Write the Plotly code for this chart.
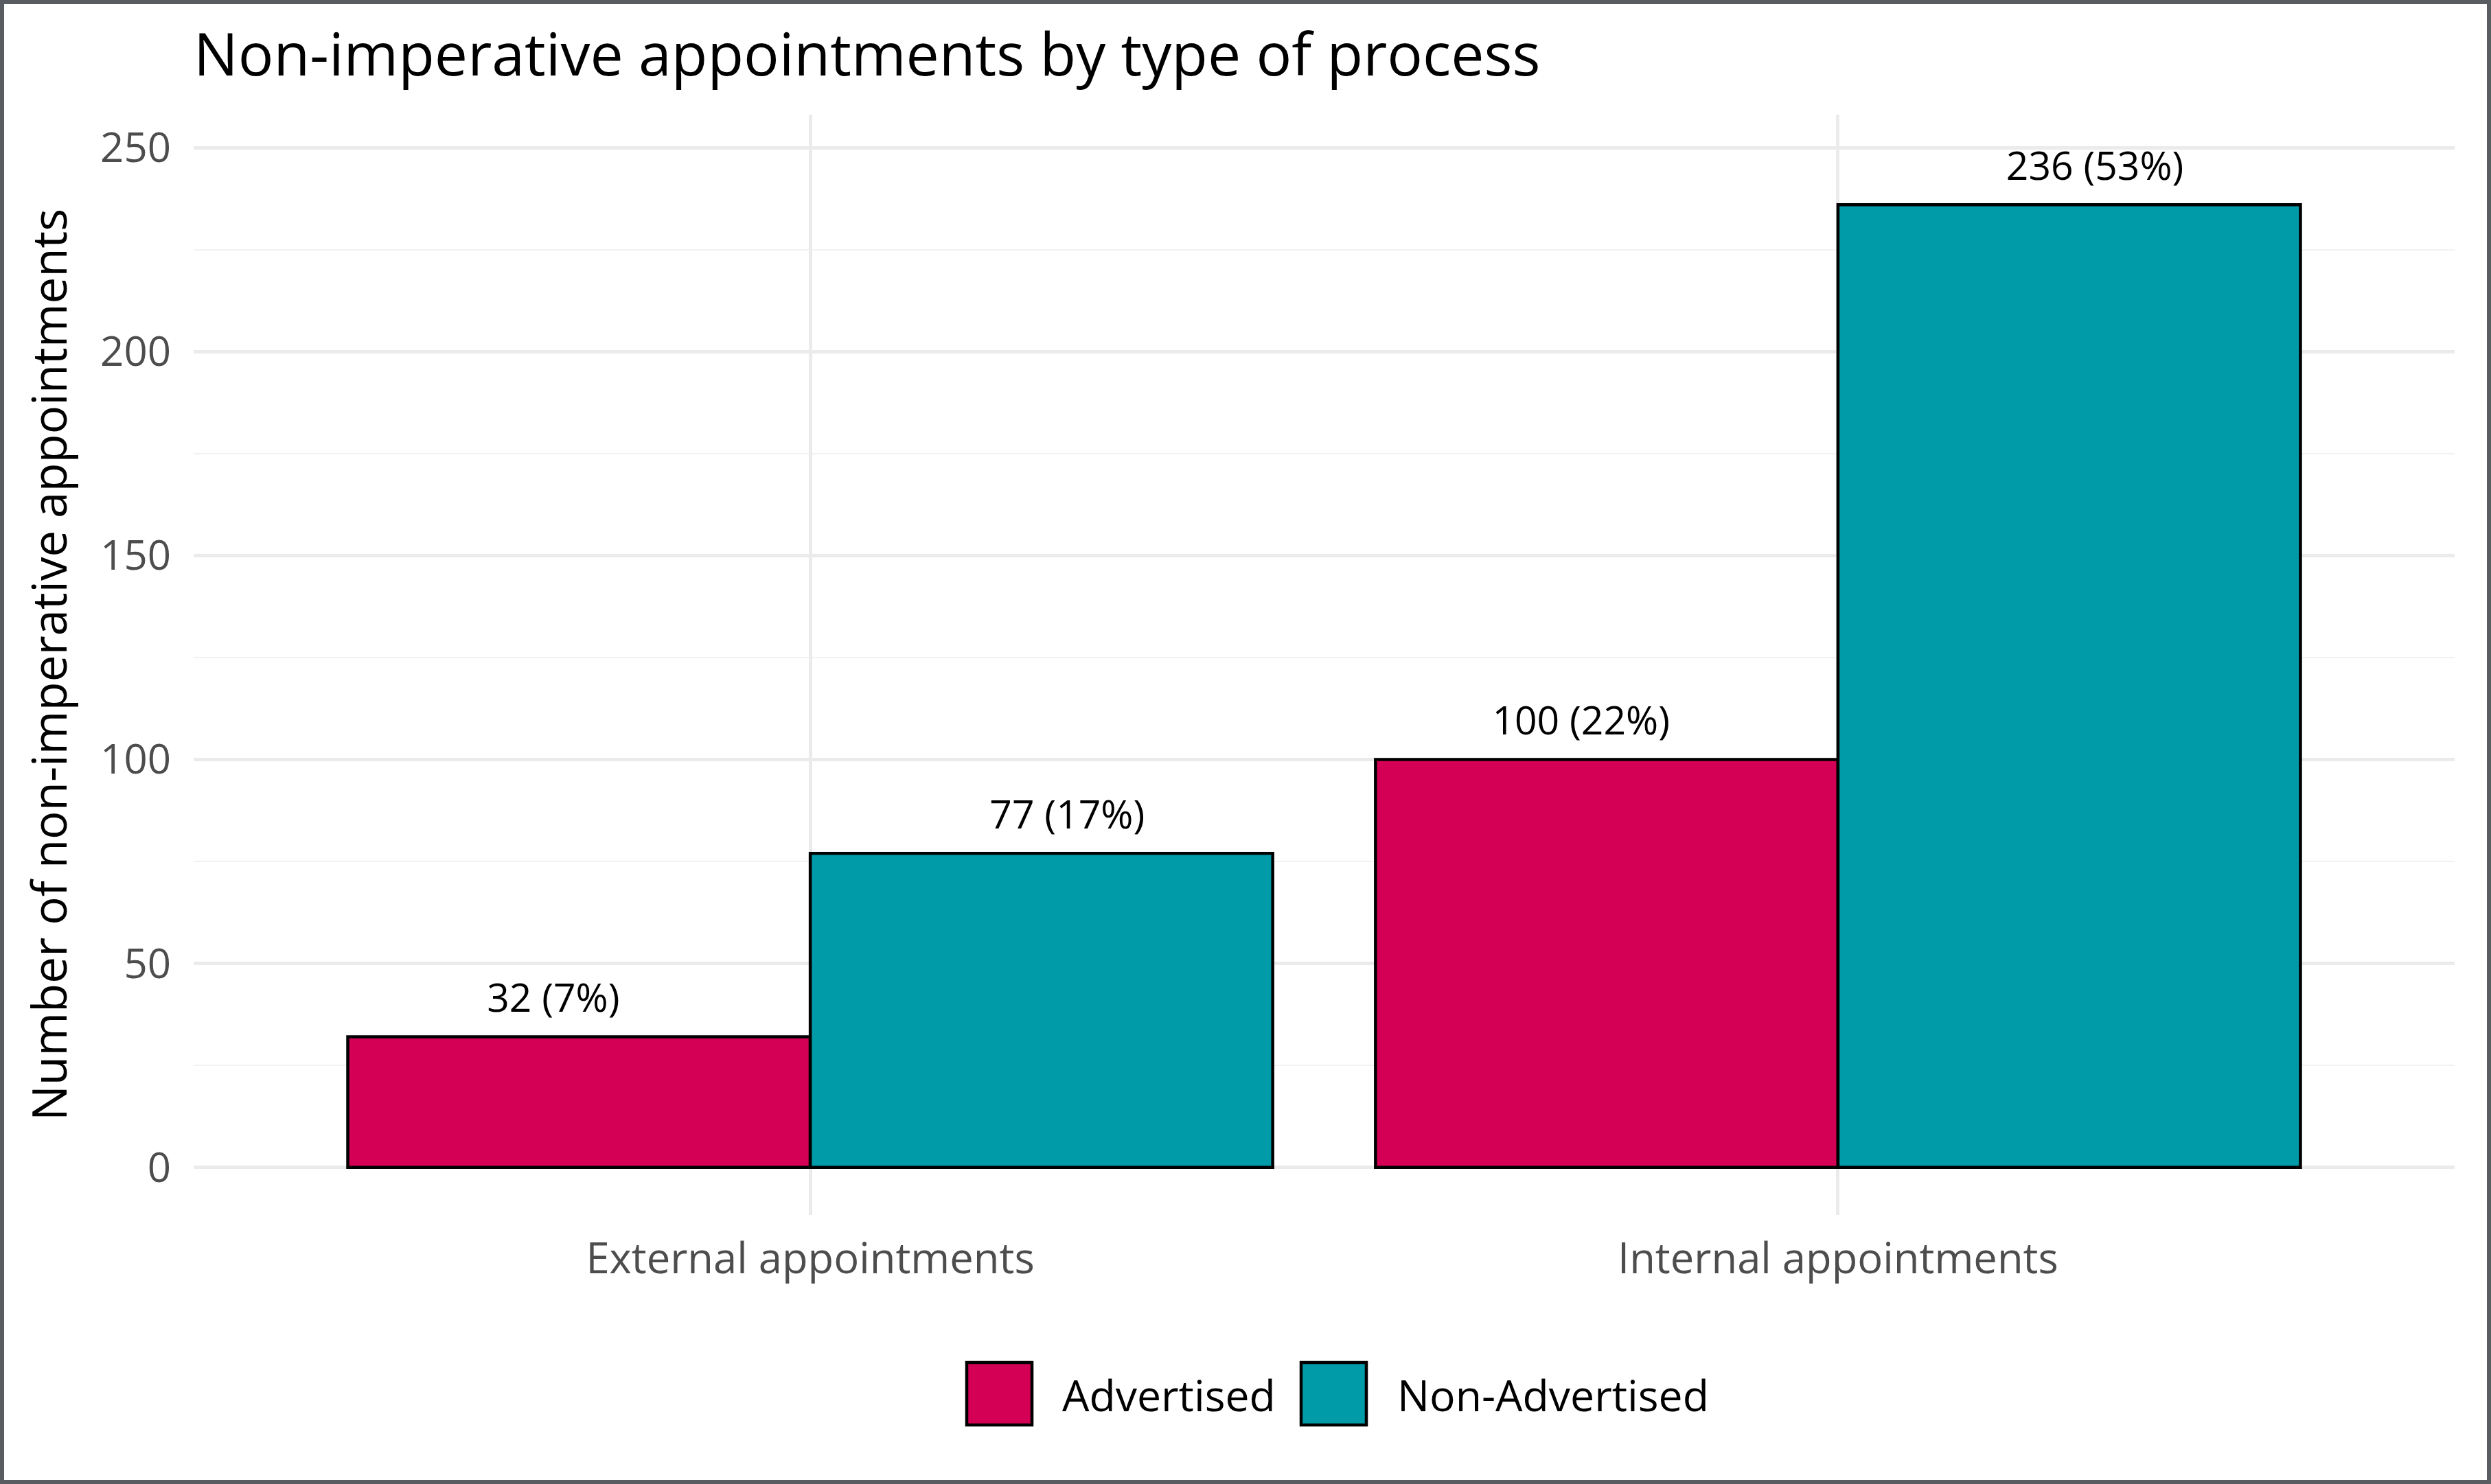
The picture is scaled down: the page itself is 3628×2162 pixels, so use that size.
import plotly.graph_objects as go

# ---- data ----
categories = ["External appointments", "Internal appointments"]
series_names = ["Advertised", "Non-Advertised"]
advertised = [32, 100]
non_advertised = [77, 236]
series_values = [advertised, non_advertised]
series_colors = ["#D40055", "#009BA8"]
y_tick_vals = [0, 50, 100, 150, 200, 250]
y_tick_text = ["0", "50", "100", "150", "200", "250"]

total = sum(advertised) + sum(non_advertised)

# ---- layout constants (pixels) ----
W, H = 3628, 2162
ML, MR, MT, MB = 282, 53, 167, 392
PW = W - ML - MR
PH = H - MT - MB
FONT = "Open Sans"


def px_x(px):
    return (px - ML) / PW


def px_y(py):
    return (H - MB - py) / PH


x_pos = list(range(len(categories)))
dodge = [-0.25, 0.25]

fig = go.Figure()
for name, vals, col in zip(series_names, series_values, series_colors):
    fig.add_trace(go.Bar(
        name=name, x=x_pos, y=vals,
        marker=dict(color=col, line=dict(color="black", width=4.5)),
        showlegend=False,
    ))

for k, (name, vals) in enumerate(zip(series_names, series_values)):
    fig.add_trace(go.Scatter(
        x=[i + dodge[k] for i in x_pos], y=vals,
        mode="markers+text",
        marker=dict(size=34, color="rgba(0,0,0,0)"),
        text=[f"{v} ({round(100 * v / total)}%)" for v in vals],
        textposition="top center",
        textfont=dict(family=FONT, size=57, color="black"),
        showlegend=False, hoverinfo="skip",
    ))

# custom legend (large keys like the reference)
legend_keys = [(1408, 1503, 1545), (1895, 1990, 2033)]
shapes = []
annotations = []
for (kx0, kx1, tx), name, col in zip(legend_keys, series_names, series_colors):
    shapes.append(dict(type="rect", xref="paper", yref="paper",
                       x0=px_x(kx0), x1=px_x(kx1), y0=px_y(2076), y1=px_y(1985),
                       fillcolor=col, line=dict(color="black", width=4.5)))
    annotations.append(dict(xref="paper", yref="paper", x=px_x(tx), y=px_y(2031),
                            xanchor="left", yanchor="middle", showarrow=False,
                            text=name, font=dict(family=FONT, size=62.5, color="black")))

# outer frame
shapes.append(dict(type="rect", xref="paper", yref="paper",
                   x0=px_x(3), x1=px_x(W - 3), y0=px_y(H - 3), y1=px_y(3),
                   line=dict(color="#595C60", width=6), fillcolor="rgba(0,0,0,0)",
                   layer="above"))

fig.update_layout(
    width=W, height=H,
    margin=dict(l=ML, r=MR, t=MT, b=MB),
    paper_bgcolor="white", plot_bgcolor="white",
    template="none",
    barmode="group", bargap=0.1, bargroupgap=0,
    title=dict(text="Non-imperative appointments by type of process",
               x=0, xref="paper", xanchor="left",
               y=1 - 80 / H, yref="container", yanchor="middle",
               font=dict(family=FONT, size=86, color="black")),
    xaxis=dict(range=[-0.6, 1.6], tickmode="array", tickvals=x_pos, ticktext=categories,
               showgrid=True, gridcolor="#EBEBEB", gridwidth=4.5,
               zeroline=False, showline=False, ticks="",
               ticklabelstandoff=22,
               tickfont=dict(family=FONT, size=61.5, color="#4D4D4D"),
               automargin=False),
    yaxis=dict(range=[-11.66, 258.1], tickmode="array", tickvals=y_tick_vals, ticktext=y_tick_text,
               showgrid=True, gridcolor="#EBEBEB", gridwidth=4.5,
               minor=dict(dtick=25, tick0=0, showgrid=True, gridcolor="#F2F2F2", gridwidth=2.3),
               zeroline=False, showline=False, ticks="",
               ticklabelstandoff=32,
               tickfont=dict(family=FONT, size=60, color="#4D4D4D"),
               title=dict(text="Number of non-imperative appointments",
                          font=dict(family=FONT, size=69, color="black"), standoff=25),
               automargin=False),
    shapes=shapes,
    annotations=annotations,
    showlegend=False,
)

fig.write_html("out.html", config={"displayModeBar": False},
               post_script="document.body.style.margin='0';")
